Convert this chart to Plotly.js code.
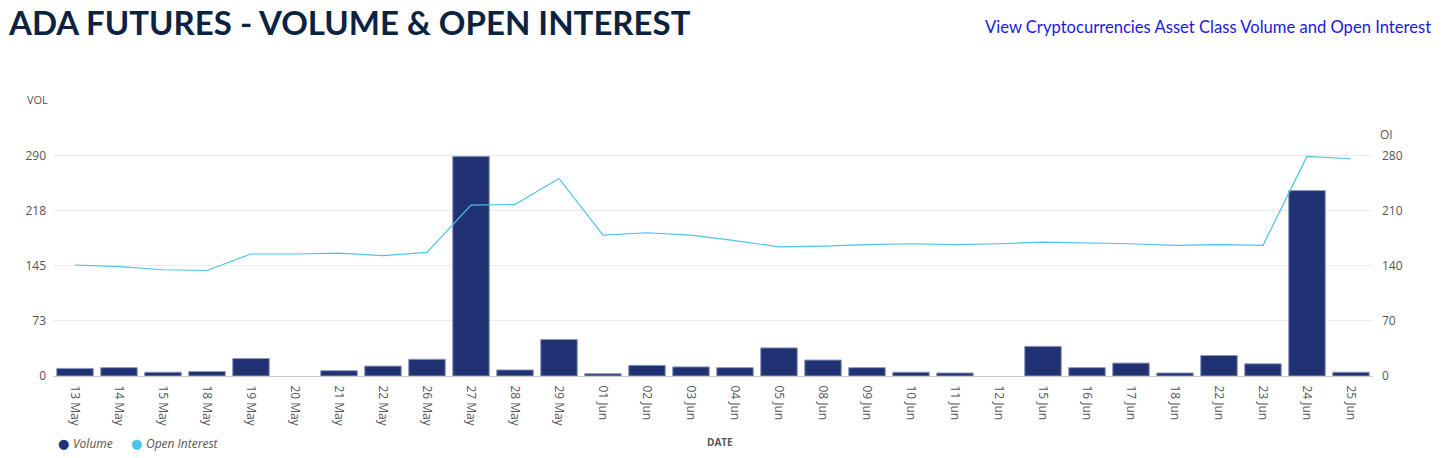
<!DOCTYPE html>
<html>
<head>
<meta charset="utf-8">
<script src="https://cdn.plot.ly/plotly-3.0.1.min.js"></script>
<style>
  html, body { margin: 0; padding: 0; background: #fff; }
  #chart { width: 1450px; height: 458px; }
</style>
</head>
<body>
<div id="chart"></div>
<script>
const dates = ["13 May","14 May","15 May","18 May","19 May","20 May","21 May","22 May","26 May","27 May","28 May","29 May","01 Jun","02 Jun","03 Jun","04 Jun","05 Jun","08 Jun","09 Jun","10 Jun","11 Jun","12 Jun","15 Jun","16 Jun","17 Jun","18 Jun","22 Jun","23 Jun","24 Jun","25 Jun"];
const volume = [10,11,5,6,23,0,7,13,22,289,8,48,3,14,12,11,37,21,11,5,4,0,39,11,17,4,27,16,244,5];
const openInterest = [141,139,135,134,155,155,156,153,157,217,218,251,179,182,179,172,164,165,167,168,167,168,170,169,168,166,167,166,279,276];
const volTicks = [0,73,145,218,290];
const oiTicks = [0,70,140,210,280];
const seriesNames = ['Volume', 'Open Interest'];

const barColor = '#203274';
const lineColor = '#4cc3ec';
const VOL_MAX = 300;
const OI_MAX = 280 * 300 / 290;

const traces = [
  {
    type: 'bar', x: dates, y: volume, name: seriesNames[0],
    marker: { color: barColor, line: { color: '#8e9abb', width: volume.map(v => v > 0 ? 1 : 0) } },
    hoverinfo: 'x+y'
  },
  {
    type: 'scatter', mode: 'lines', x: dates, y: openInterest, yaxis: 'y2',
    name: seriesNames[1],
    line: { color: lineColor, width: 1.2 }
  }
];

const PT = 376 - 0.7586 * VOL_MAX; // plot top pixel
const PH = 376 - PT;
function px2x(p) { return (p - 53) / 1320; }
function px2y(p) { return (376 - p) / PH; }

const legendFont = { size: 12, color: '#555', style: 'italic' };

const layout = {
  width: 1450, height: 458,
  margin: { l: 53, r: 77, t: PT, b: 458 - 376, pad: 0 },
  paper_bgcolor: '#fff', plot_bgcolor: '#fff',
  font: { family: 'Open Sans, sans-serif', color: '#555' },
  bargap: 0.17,
  showlegend: false,
  title: {
    text: 'ADA FUTURES - VOLUME &amp; OPEN INTEREST',
    xref: 'container', yref: 'container', x: 9 / 1450, xanchor: 'left',
    y: 1 - 23 / 458, yanchor: 'middle',
    font: { family: 'Lato, sans-serif', size: 33, weight: 'bold', color: '#0c2340' }
  },
  xaxis: {
    type: 'category', tickangle: 90, showgrid: false,
    showline: true, linecolor: '#c9c9c9', linewidth: 1,
    ticks: '', tickfont: { size: 12, color: '#555' }, ticklabelstandoff: 6,
    automargin: false, fixedrange: true
  },
  yaxis: {
    range: [0, VOL_MAX], tickmode: 'array', tickvals: volTicks,
    showgrid: true, gridcolor: '#ececec', zeroline: false, showline: false,
    tickfont: { size: 12, color: '#555' }, ticklabelstandoff: 6, automargin: false
  },
  yaxis2: {
    overlaying: 'y', side: 'right', range: [0, OI_MAX], tickmode: 'array', tickvals: oiTicks,
    showgrid: false, zeroline: false, showline: false,
    tickfont: { size: 12, color: '#555' }, ticklabelstandoff: 8, automargin: false
  },
  annotations: [
    { text: 'View Cryptocurrencies Asset Class Volume and Open Interest', xref: 'paper', yref: 'paper',
      x: px2x(1433), y: px2y(28), xanchor: 'right', yanchor: 'middle', showarrow: false,
      font: { size: 16.6, color: '#1a1adc', family: 'Lato, sans-serif' } },
    { text: 'VOL', xref: 'paper', yref: 'paper', x: px2x(37), y: px2y(100), xanchor: 'center', yanchor: 'middle',
      showarrow: false, font: { size: 11, color: '#555' } },
    { text: 'OI', xref: 'paper', yref: 'paper', x: px2x(1387), y: px2y(135), xanchor: 'center', yanchor: 'middle',
      showarrow: false, font: { size: 12, color: '#555' } },
    { text: 'DATE', xref: 'paper', yref: 'paper', x: px2x(720), y: px2y(442), xanchor: 'center', yanchor: 'middle',
      showarrow: false, font: { size: 10, color: '#555', weight: 'bold' } },
    { text: '●', xref: 'paper', yref: 'paper', x: px2x(63), y: px2y(443), xanchor: 'center', yanchor: 'middle',
      showarrow: false, font: { size: 13, color: barColor, family: 'DejaVu Sans' } },
    { text: seriesNames[0], xref: 'paper', yref: 'paper', x: px2x(71), y: px2y(443), xanchor: 'left', yanchor: 'middle',
      showarrow: false, font: legendFont },
    { text: '●', xref: 'paper', yref: 'paper', x: px2x(136), y: px2y(443), xanchor: 'center', yanchor: 'middle',
      showarrow: false, font: { size: 13, color: lineColor, family: 'DejaVu Sans' } },
    { text: seriesNames[1], xref: 'paper', yref: 'paper', x: px2x(144), y: px2y(443), xanchor: 'left', yanchor: 'middle',
      showarrow: false, font: legendFont }
  ]
};

Plotly.newPlot('chart', traces, layout, { displayModeBar: false, staticPlot: true });
</script>
</body>
</html>
